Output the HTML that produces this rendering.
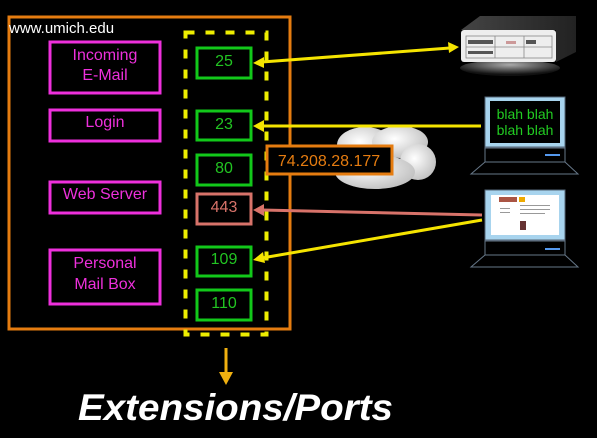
<!DOCTYPE html>
<html><head><meta charset="utf-8"><style>
html,body{margin:0;padding:0;background:#000;}
svg{display:block;}
text{font-family:"Liberation Sans",sans-serif;}
</style></head><body>
<svg width="597" height="438" viewBox="0 0 597 438" xmlns="http://www.w3.org/2000/svg">
<defs>
<linearGradient id="top" x1="0" y1="0" x2="1" y2="0"><stop offset="0" stop-color="#444"/><stop offset="1" stop-color="#222"/></linearGradient>
<radialGradient id="sh" cx="0.5" cy="0.3" r="0.6"><stop offset="0" stop-color="#aaa"/><stop offset="1" stop-color="#111"/></radialGradient>
<radialGradient id="cl" cx="0.4" cy="0.4" r="0.7"><stop offset="0" stop-color="#fff"/><stop offset="1" stop-color="#bbb"/></radialGradient>
</defs>
<rect width="597" height="438" fill="#000"/>
<rect x="9" y="17" width="281" height="312" fill="none" stroke="#e57c10" stroke-width="3"/>
<text x="9" y="33" font-size="15" fill="#fff">www.umich.edu</text>
<g fill="none" stroke="#ee30dc" stroke-width="3">
<rect x="50" y="42" width="110" height="51"/>
<rect x="50" y="110" width="110" height="31"/>
<rect x="50" y="182" width="110" height="31"/>
<rect x="50" y="250" width="110" height="54"/>
</g>
<g fill="#ee30dc" font-size="16" text-anchor="middle">
<text x="105" y="60">Incoming</text><text x="105" y="80">E-Mail</text>
<text x="105" y="127">Login</text>
<text x="105" y="199">Web Server</text>
<text x="105" y="268">Personal</text><text x="105" y="289">Mail Box</text>
</g>
<rect x="185.5" y="32.5" width="81" height="302" fill="none" stroke="#eeee00" stroke-width="4" stroke-dasharray="9 11"/>
<g fill="none" stroke="#12c81a" stroke-width="3">
<rect x="197" y="48" width="54" height="30"/>
<rect x="197" y="111" width="54" height="29"/>
<rect x="197" y="155" width="54" height="30"/>
<rect x="197" y="247" width="54" height="29"/>
<rect x="197" y="290" width="54" height="30"/>
</g>
<rect x="197" y="194" width="54" height="30" fill="none" stroke="#d8736a" stroke-width="3"/>
<g fill="#22c422" font-size="16" text-anchor="middle">
<text x="224" y="66">25</text><text x="224" y="129">23</text><text x="224" y="173">80</text>
<text x="224" y="264">109</text><text x="224" y="308">110</text>
</g>
<text x="224" y="212" fill="#d8736a" font-size="16" text-anchor="middle">443</text>
<g fill="url(#cl)">
<ellipse cx="365" cy="145" rx="28" ry="18"/><ellipse cx="400" cy="142" rx="28" ry="16"/>
<ellipse cx="418" cy="162" rx="18" ry="18"/><ellipse cx="375" cy="172" rx="40" ry="17"/>
<ellipse cx="350" cy="160" rx="20" ry="15"/>
</g>
<rect x="267" y="146" width="125" height="28" fill="#000" stroke="#e57c10" stroke-width="3"/>
<text x="329" y="166" fill="#e57c10" font-size="16" text-anchor="middle">74.208.28.177</text>
<polygon points="461,30 480,16 576,16 576,52 556,62 556,30" fill="url(#top)"/>
<ellipse cx="510" cy="68" rx="50" ry="8" fill="url(#sh)"/>
<rect x="461" y="30" width="95" height="32" rx="3" fill="#eee"/>
<g fill="none" stroke="#888" stroke-width="0.8"><rect x="466" y="36" width="86" height="22"/><line x1="466" y1="47" x2="552" y2="47"/><line x1="495" y1="36" x2="495" y2="58"/><line x1="524" y1="36" x2="524" y2="58"/></g>
<rect x="468" y="40" width="25" height="4" fill="#555"/><rect x="468" y="51" width="25" height="3" fill="#555"/><rect x="526" y="40" width="10" height="4" fill="#555"/>
<rect x="506" y="41" width="10" height="3" fill="#c99"/>
<rect x="485" y="97" width="80" height="50" fill="#a8d4ee" stroke="#567" stroke-width="1"/>
<rect x="490" y="101" width="70" height="42" fill="#000"/>
<text x="525" y="119" fill="#2c2" font-size="14" text-anchor="middle">blah blah</text>
<text x="525" y="135" fill="#2c2" font-size="14" text-anchor="middle">blah blah</text>
<rect x="485" y="148" width="80" height="14" fill="#000" stroke="#678" stroke-width="1"/>
<rect x="545" y="154" width="15" height="2" fill="#59e"/>
<polygon points="485,162 565,162 578,174 471,174" fill="#000" stroke="#678" stroke-width="1"/>
<rect x="485" y="190" width="80" height="50" fill="#a8d4ee" stroke="#567" stroke-width="1"/>
<rect x="491" y="195" width="68" height="40" fill="#fff"/>
<rect x="499" y="197" width="18" height="5" fill="#a54"/><rect x="519" y="197" width="6" height="5" fill="#ea0"/>
<g fill="#999"><rect x="520" y="205" width="30" height="1"/><rect x="520" y="209" width="30" height="1"/><rect x="520" y="213" width="25" height="1"/><rect x="500" y="208" width="10" height="1"/><rect x="500" y="212" width="10" height="1"/></g>
<rect x="520" y="221" width="6" height="9" fill="#633"/>
<rect x="485" y="241" width="80" height="14" fill="#000" stroke="#678" stroke-width="1"/>
<rect x="545" y="248" width="15" height="2" fill="#59e"/>
<polygon points="485,255 565,255 578,267 471,267" fill="#000" stroke="#678" stroke-width="1"/>
<g stroke="#f5e400" stroke-width="3" fill="none">
<line x1="262" y1="62" x2="450" y2="48"/>
<line x1="262" y1="126" x2="481" y2="126"/>
<line x1="262" y1="258" x2="482" y2="220"/>
</g>
<line x1="262" y1="210" x2="482" y2="215" stroke="#d8736a" stroke-width="3"/>
<g fill="#f5e400">
<polygon points="253,63 264,57 264,68"/>
<polygon points="459,47 448,42 449,53"/>
<polygon points="253,126 264,120 264,132"/>
<polygon points="253,260 263,252 265,263"/>
</g>
<polygon points="253,210 264,204 264,216" fill="#d8736a"/>
<line x1="226" y1="348" x2="226" y2="374" stroke="#f0b010" stroke-width="3"/>
<polygon points="219,372 233,372 226,385" fill="#f0b010"/>
<text x="78" y="420" fill="#fff" font-size="37" font-weight="bold" font-style="italic" textLength="315" lengthAdjust="spacingAndGlyphs">Extensions/Ports</text>
</svg>
</body></html>
